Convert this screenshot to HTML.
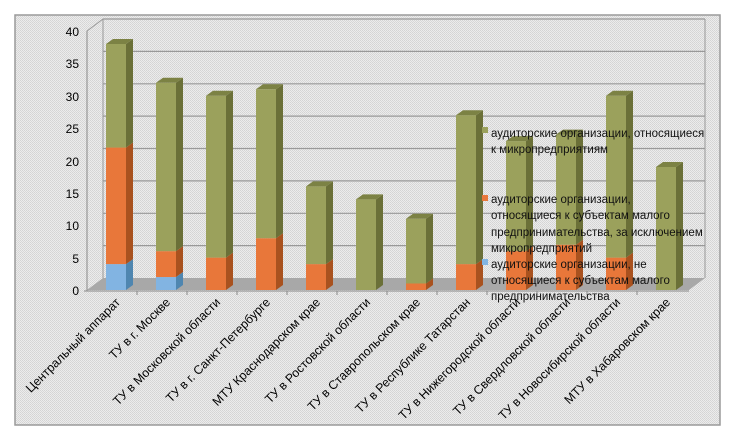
<!DOCTYPE html>
<html><head><meta charset="utf-8"><style>
html,body{margin:0;padding:0;background:#fff;}
svg{display:block;font-family:"Liberation Sans","DejaVu Sans",sans-serif;}
</style></head><body>
<svg width="733" height="439" viewBox="0 0 733 439" xmlns="http://www.w3.org/2000/svg">
<defs>
<pattern id="dots" width="2" height="2" patternUnits="userSpaceOnUse">
<rect width="2" height="2" fill="#ececec"/><rect width="1" height="1" fill="#d4d4d4"/><rect x="1" y="1" width="1" height="1" fill="#d8d8d8"/>
</pattern>
</defs>
<rect x="15" y="15" width="705" height="410" fill="url(#dots)" stroke="#9a9a9a" stroke-width="1.5"/>
<polygon points="87,290 103,278 705,278 689,290" fill="#a8a8a8"/>
<line x1="103" y1="19" x2="103" y2="278" stroke="#999"/>
<line x1="87" y1="31" x2="103" y2="19" stroke="#999"/>
<g stroke="#999" stroke-width="1.2">
<line x1="103" y1="19" x2="705" y2="19"/>
<line x1="103" y1="51.4" x2="705" y2="51.4"/>
<line x1="103" y1="83.8" x2="705" y2="83.8"/>
<line x1="103" y1="116.1" x2="705" y2="116.1"/>
<line x1="103" y1="148.5" x2="705" y2="148.5"/>
<line x1="103" y1="180.9" x2="705" y2="180.9"/>
<line x1="103" y1="213.3" x2="705" y2="213.3"/>
<line x1="103" y1="245.6" x2="705" y2="245.6"/>
</g>
<line x1="705" y1="19" x2="705" y2="278" stroke="#999"/>
<line x1="87" y1="31" x2="87" y2="291" stroke="#888"/>
<line x1="87" y1="291" x2="689" y2="291" stroke="#888"/>
<g font-size="12" fill="#000" text-anchor="end">
<text x="79" y="295">0</text><text x="79" y="263">5</text><text x="79" y="230">10</text><text x="79" y="198">15</text><text x="79" y="166">20</text><text x="79" y="133">25</text><text x="79" y="101">30</text><text x="79" y="68">35</text><text x="79" y="36">40</text>
</g>
<g stroke="#888">
<line x1="84" y1="291" x2="87" y2="291"/>
<line x1="137" y1="291" x2="137" y2="295"/><line x1="187" y1="291" x2="187" y2="295"/><line x1="237" y1="291" x2="237" y2="295"/><line x1="287" y1="291" x2="287" y2="295"/><line x1="337" y1="291" x2="337" y2="295"/><line x1="387" y1="291" x2="387" y2="295"/><line x1="437" y1="291" x2="437" y2="295"/><line x1="487" y1="291" x2="487" y2="295"/><line x1="537" y1="291" x2="537" y2="295"/><line x1="587" y1="291" x2="587" y2="295"/><line x1="637" y1="291" x2="637" y2="295"/>
</g>
<g transform="translate(106,0)">
<rect x="0" y="264.1" width="20" height="25.9" fill="#82b4e2"/><polygon points="20,290 27,285 27,259.1 20,264.1" fill="#4f86b0"/>
<rect x="0" y="147.55" width="20" height="116.55" fill="#e8773a"/><polygon points="20,264.1 27,259.1 27,142.55 20,147.55" fill="#a9521f"/>
<rect x="0" y="43.95" width="20" height="103.6" fill="#9ba15c"/><polygon points="20,147.55 27,142.55 27,38.95 20,43.95" fill="#6b7038"/>
<polygon points="0,43.95 7,38.95 27,38.95 20,43.95" fill="#7c8244"/>
</g>
<g transform="translate(156,0)">
<rect x="0" y="277.05" width="20" height="12.95" fill="#82b4e2"/><polygon points="20,290 27,285 27,272.05 20,277.05" fill="#4f86b0"/>
<rect x="0" y="251.15" width="20" height="25.9" fill="#e8773a"/><polygon points="20,277.05 27,272.05 27,246.15 20,251.15" fill="#a9521f"/>
<rect x="0" y="82.8" width="20" height="168.35" fill="#9ba15c"/><polygon points="20,251.15 27,246.15 27,77.8 20,82.8" fill="#6b7038"/>
<polygon points="0,82.8 7,77.8 27,77.8 20,82.8" fill="#7c8244"/>
</g>
<g transform="translate(206,0)">
<rect x="0" y="257.6" width="20" height="32.4" fill="#e8773a"/><polygon points="20,290 27,285 27,252.6 20,257.6" fill="#a9521f"/>
<rect x="0" y="95.75" width="20" height="161.85" fill="#9ba15c"/><polygon points="20,257.6 27,252.6 27,90.75 20,95.75" fill="#6b7038"/>
<polygon points="0,95.75 7,90.75 27,90.75 20,95.75" fill="#7c8244"/>
</g>
<g transform="translate(256,0)">
<rect x="0" y="238.2" width="20" height="51.8" fill="#e8773a"/><polygon points="20,290 27,285 27,233.2 20,238.2" fill="#a9521f"/>
<rect x="0" y="89.3" width="20" height="148.9" fill="#9ba15c"/><polygon points="20,238.2 27,233.2 27,84.3 20,89.3" fill="#6b7038"/>
<polygon points="0,89.3 7,84.3 27,84.3 20,89.3" fill="#7c8244"/>
</g>
<g transform="translate(306,0)">
<rect x="0" y="264.1" width="20" height="25.9" fill="#e8773a"/><polygon points="20,290 27,285 27,259.1 20,264.1" fill="#a9521f"/>
<rect x="0" y="186.4" width="20" height="77.7" fill="#9ba15c"/><polygon points="20,264.1 27,259.1 27,181.4 20,186.4" fill="#6b7038"/>
<polygon points="0,186.4 7,181.4 27,181.4 20,186.4" fill="#7c8244"/>
</g>
<g transform="translate(356,0)">
<rect x="0" y="199.35" width="20" height="90.65" fill="#9ba15c"/><polygon points="20,290 27,285 27,194.35 20,199.35" fill="#6b7038"/>
<polygon points="0,199.35 7,194.35 27,194.35 20,199.35" fill="#7c8244"/>
</g>
<g transform="translate(406,0)">
<rect x="0" y="283.5" width="20" height="6.5" fill="#e8773a"/><polygon points="20,290 27,285 27,278.5 20,283.5" fill="#a9521f"/>
<rect x="0" y="218.8" width="20" height="64.7" fill="#9ba15c"/><polygon points="20,283.5 27,278.5 27,213.8 20,218.8" fill="#6b7038"/>
<polygon points="0,218.8 7,213.8 27,213.8 20,218.8" fill="#7c8244"/>
</g>
<g transform="translate(456,0)">
<rect x="0" y="264.1" width="20" height="25.9" fill="#e8773a"/><polygon points="20,290 27,285 27,259.1 20,264.1" fill="#a9521f"/>
<rect x="0" y="115.2" width="20" height="148.9" fill="#9ba15c"/><polygon points="20,264.1 27,259.1 27,110.2 20,115.2" fill="#6b7038"/>
<polygon points="0,115.2 7,110.2 27,110.2 20,115.2" fill="#7c8244"/>
</g>
<g transform="translate(506,0)">
<rect x="0" y="251.15" width="20" height="38.85" fill="#e8773a"/><polygon points="20,290 27,285 27,246.15 20,251.15" fill="#a9521f"/>
<rect x="0" y="141.1" width="20" height="110.05" fill="#9ba15c"/><polygon points="20,251.15 27,246.15 27,136.1 20,141.1" fill="#6b7038"/>
<polygon points="0,141.1 7,136.1 27,136.1 20,141.1" fill="#7c8244"/>
</g>
<g transform="translate(556,0)">
<rect x="0" y="244.7" width="20" height="45.3" fill="#e8773a"/><polygon points="20,290 27,285 27,239.7 20,244.7" fill="#a9521f"/>
<rect x="0" y="134.6" width="20" height="110.1" fill="#9ba15c"/><polygon points="20,244.7 27,239.7 27,129.6 20,134.6" fill="#6b7038"/>
<polygon points="0,134.6 7,129.6 27,129.6 20,134.6" fill="#7c8244"/>
</g>
<g transform="translate(606,0)">
<rect x="0" y="257.6" width="20" height="32.4" fill="#e8773a"/><polygon points="20,290 27,285 27,252.6 20,257.6" fill="#a9521f"/>
<rect x="0" y="95.75" width="20" height="161.85" fill="#9ba15c"/><polygon points="20,257.6 27,252.6 27,90.75 20,95.75" fill="#6b7038"/>
<polygon points="0,95.75 7,90.75 27,90.75 20,95.75" fill="#7c8244"/>
</g>
<g transform="translate(656,0)">
<rect x="0" y="166.97" width="20" height="123.03" fill="#9ba15c"/><polygon points="20,290 27,285 27,161.97 20,166.97" fill="#6b7038"/>
<polygon points="0,166.97 7,161.97 27,161.97 20,166.97" fill="#7c8244"/>
</g>
<g font-size="11.5" fill="#111">
<rect x="482" y="127" width="6" height="6" fill="#9ba15c"/>
<text x="491" y="137">аудиторские организации, относящиеся</text>
<text x="491" y="153">к микропредприятиям</text>
<rect x="482" y="195" width="6" height="6" fill="#e8773a"/>
<text x="491" y="203">аудиторские организации,</text>
<text x="491" y="219">относящиеся к субъектам малого</text>
<text x="491" y="236">предпринимательства, за исключением</text>
<text x="491" y="252">микропредприятий</text>
<rect x="482" y="259" width="6" height="6" fill="#82b4e2"/>
<text x="491" y="268">аудиторские организации, не</text>
<text x="491" y="284">относящиеся к субъектам малого</text>
<text x="491" y="300">предпринимательства</text>
</g>
<g font-size="12.3" fill="#000" text-anchor="end">
<text transform="translate(121,303) rotate(-45)">Центральный аппарат</text>
<text transform="translate(171,303) rotate(-45)">ТУ в г. Москве</text>
<text transform="translate(221,303) rotate(-45)">ТУ в Московской области</text>
<text transform="translate(271,303) rotate(-45)">ТУ в г. Санкт-Петербурге</text>
<text transform="translate(321,303) rotate(-45)">МТУ Краснодарском крае</text>
<text transform="translate(371,303) rotate(-45)">ТУ в Ростовской области</text>
<text transform="translate(421,303) rotate(-45)">ТУ в Ставропольском крае</text>
<text transform="translate(471,303) rotate(-45)">ТУ в Республике Татарстан</text>
<text transform="translate(521,303) rotate(-45)">ТУ в Нижегородской области</text>
<text transform="translate(571,303) rotate(-45)">ТУ в Свердловской области</text>
<text transform="translate(621,303) rotate(-45)">ТУ в Новосибирской области</text>
<text transform="translate(671,303) rotate(-45)">МТУ в Хабаровском крае</text>
</g>
</svg>
</body></html>
